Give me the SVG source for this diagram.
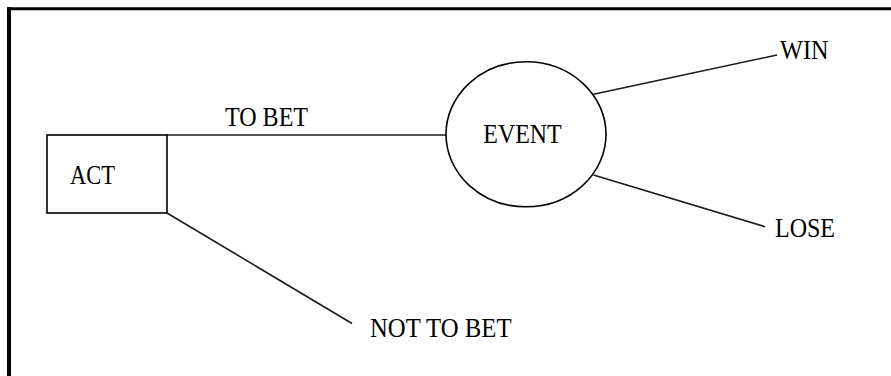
<svg xmlns="http://www.w3.org/2000/svg" width="891" height="376" viewBox="0 0 891 376">
<style>
.lbl{font-family:"Liberation Serif","Times New Roman",serif;font-size:28px;fill:#000}
.edge{stroke:#1a1a1a;stroke-width:1.6;fill:none}
.shape{stroke:#000;stroke-width:1.6;fill:#fff}
</style>
<rect width="891" height="376" fill="#fff"/>
<g id="frame">
<line x1="7" y1="8.8" x2="891" y2="8.8" stroke="#000" stroke-width="3"/>
<line x1="9" y1="7.3" x2="9" y2="376" stroke="#000" stroke-width="4"/>
</g>
<g id="connectors">
<line class="edge" x1="167" y1="135" x2="446" y2="135"/>
<line class="edge" x1="167" y1="213" x2="352" y2="323.5"/>
<line class="edge" x1="593.5" y1="94.3" x2="777" y2="55"/>
<line class="edge" x1="593.5" y1="175" x2="765" y2="226.7"/>
<text class="lbl" x="225" y="125.5" textLength="83" lengthAdjust="spacingAndGlyphs">TO BET</text>
<text class="lbl" x="370" y="337.3" textLength="141.5" lengthAdjust="spacingAndGlyphs">NOT TO BET</text>
<text class="lbl" x="780" y="59" textLength="48.5" lengthAdjust="spacingAndGlyphs">WIN</text>
<text class="lbl" x="775" y="236.7" textLength="60" lengthAdjust="spacingAndGlyphs">LOSE</text>
</g>
<g id="act">
<rect class="shape" x="47" y="135" width="120" height="78"/>
<text class="lbl" x="70" y="184.3" textLength="45" lengthAdjust="spacingAndGlyphs">ACT</text>
</g>
<g id="event">
<ellipse class="shape" cx="526" cy="134.3" rx="80" ry="72.5"/>
<text class="lbl" x="483.3" y="143.3" textLength="78.4" lengthAdjust="spacingAndGlyphs">EVENT</text>
</g>
</svg>
